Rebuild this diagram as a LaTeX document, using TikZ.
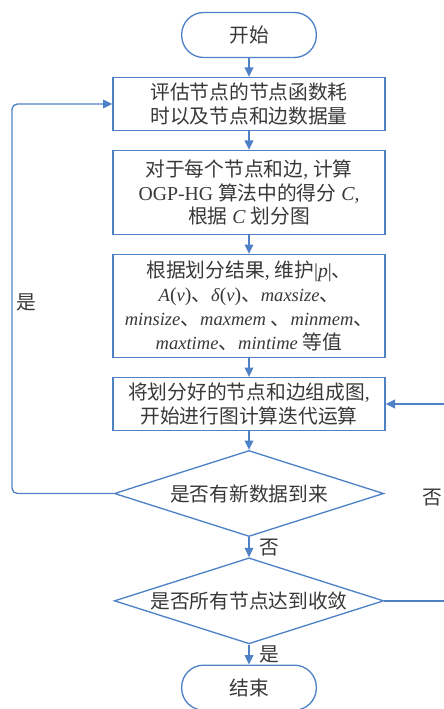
\documentclass[tikz,border=0pt]{standalone}
\usepackage{fontspec}
\setmainfont{Liberation Serif}
\newfontfamily\cjk{Noto Sans CJK SC}
\usetikzlibrary{positioning,shapes.geometric,arrows.meta}
\definecolor{flowblue}{HTML}{4F81C7}
\definecolor{inkgray}{HTML}{383838}
\newcommand\rmtxt[1]{{\rmfamily #1}}
\newcommand\ittxt[1]{{\rmfamily\itshape\fontsize{13.9pt}{17.6pt}\selectfont #1}}

\begin{document}
\begin{tikzpicture}[x=0.75pt,y=-0.75pt,
    node distance=14pt,
    every node/.style={text=inkgray,font=\cjk\fontsize{14.8pt}{17.6pt}\selectfont},
    terminal/.style={draw=flowblue,line width=1pt,rounded corners=16.5pt,
                     minimum width=101pt,minimum height=33.75pt},
    process/.style={draw=flowblue,line width=1pt,minimum width=204pt,
                    align=center,inner sep=2pt},
    decision/.style={draw=flowblue,line width=1pt,diamond,aspect=3.1,
                     minimum width=202pt,minimum height=64.5pt,inner sep=0pt},
    line/.style={draw=flowblue,line width=1pt},
    arrow/.style={line,-{Triangle[length=7pt,width=6.5pt]}}]

\useasboundingbox (0,0) rectangle (443,709);

\node[terminal] (start) at (249,35) {开始};
\node[process,minimum height=39.75pt,below=of start] (eval)
    {评估节点的节点函数耗\\时以及节点和边数据量};
\node[process,minimum height=63pt,below=of eval] (score)
    {对于每个节点和边\rmtxt{, }计算\\
     \rmtxt{OGP-HG }算法中的得分\rmtxt{ \textit{C},}\\
     根据\rmtxt{ \textit{C} }划分图};
\node[process,minimum height=77.25pt,below=of score,
      font=\cjk\fontsize{14.8pt}{18pt}\selectfont] (keep)
    {根据划分结果\rmtxt{, }维护\rmtxt{|\textit{p}|}、\\
     \ittxt{A}\rmtxt{(}\ittxt{v}\rmtxt{)}、\ittxt{δ}\rmtxt{(}\ittxt{v}\rmtxt{)}、\ittxt{maxsize}、\\
     \ittxt{minsize}、\ittxt{maxmem}\rmtxt{ }、\ittxt{minmem}、\\
     \ittxt{maxtime}、\ittxt{mintime}\rmtxt{ }等值};
\node[process,minimum height=39.75pt,below=of keep] (merge)
    {将划分好的节点和边组成图\rmtxt{,}\\开始进行图计算迭代运算};
\node[decision,below=of merge] (newdata) {是否有新数据到来};
\node[decision,below=15pt of newdata] (converge) {是否所有节点达到收敛};
\node[terminal,below=15pt of converge] (finish) {结束};

% main flow
\draw[arrow] (start) -- (eval);
\draw[arrow] (eval) -- (score);
\draw[arrow] (score) -- (keep);
\draw[arrow] (keep) -- (merge);
\draw[arrow] (merge) -- (newdata);
\draw[arrow] (newdata) -- node[right=4pt] {否} (converge);
\draw[arrow] (converge) -- node[right=4pt] {是} (finish);

% loops
\coordinate (lbend) at (12,0);
\draw[arrow,rounded corners=4pt] (newdata.west) -| (lbend |- eval.west) -- (eval.west);
\node (yes1) at (26,302) {是};
\draw[arrow] (converge.east) -- ++(80,0) |- (merge.east);
\node (no1) at (432,498) {否};

\end{tikzpicture}
\end{document}
